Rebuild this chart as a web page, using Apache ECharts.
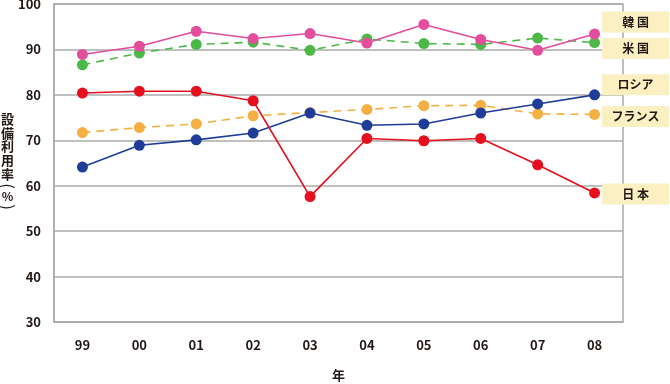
<!DOCTYPE html>
<html><head><meta charset="utf-8">
<script src="https://cdn.jsdelivr.net/npm/echarts@6/dist/echarts.min.js"></script>
<style>html,body{margin:0;padding:0;background:#fff}#c{width:670px;height:384px}</style>
</head><body><div id="c"></div>
<script>
const years = ['99','00','01','02','03','04','05','06','07','08'];
const korea  = [88.9, 90.7, 94.0, 92.4, 93.5, 91.4, 95.5, 92.2, 89.8, 93.4];
const usa    = [86.6, 89.2, 91.1, 91.6, 89.8, 92.3, 91.3, 91.1, 92.5, 91.5];
const japan  = [80.4, 80.8, 80.8, 78.7, 57.6, 70.4, 69.9, 70.4, 64.6, 58.4];
const russia = [64.1, 68.9, 70.1, 71.6, 76.0, 73.3, 73.6, 76.0, 78.0, 80.0];
const france = [71.7, 72.8, 73.6, 75.4, 76.1, 76.8, 77.6, 77.7, 75.8, 75.7];
const yTicks = [30, 40, 50, 60, 70, 80, 90, 100];
const yTitleChars = ['設', '備', '利', '用', '率'];
const xTitle = '年';

const FONT = '"Noto Sans CJK JP", "Noto Sans", sans-serif';
const TXT = '#231815';

function mk(name, label, data, color, dashed, dy) {
  return {
    name: name, type: 'line', data: data,
    symbol: 'circle', symbolSize: 11,
    lineStyle: { color: color, width: 1.6, type: dashed ? [8, 6] : 'solid' },
    itemStyle: { color: color },
    emphasis: { disabled: true },
    endLabel: {
      show: true, formatter: label,
      distance: 7, offset: [34, dy],
      backgroundColor: '#FAF0C2',
      width: 55, height: 11, lineHeight: 11,
      padding: [5, 6], align: 'center',
      color: TXT, fontFamily: FONT, fontWeight: 'bold', fontSize: 12
    },
    animation: false
  };
}

const titleText = yTitleChars.join('\n');

const chart = echarts.init(document.getElementById('c'));
chart.setOption({
  backgroundColor: '#fff',
  animation: false,
  grid: { left: 54, right: 47, top: 4, bottom: 62, outerBoundsMode: 'none', containLabel: false,
          show: true, borderColor: '#ababab', borderWidth: 1.5, backgroundColor: 'transparent' },
  xAxis: {
    type: 'category', data: years, boundaryGap: true,
    name: xTitle, nameLocation: 'middle', nameGap: 47,
    nameTextStyle: { color: TXT, fontFamily: FONT, fontWeight: 'bold', fontSize: 13 },
    axisLine: { lineStyle: { color: '#ababab', width: 1.5 } },
    axisTick: { show: false },
    axisLabel: { color: TXT, fontFamily: FONT, fontWeight: 'bold', fontSize: 13, margin: 17 }
  },
  yAxis: {
    type: 'value', min: yTicks[0], max: yTicks[yTicks.length - 1], interval: 10,
    axisLine: { show: true, lineStyle: { color: '#ababab', width: 1.5 } },
    axisTick: { show: false },
    splitLine: { lineStyle: { color: '#ababab', width: 1.5 } },
    axisLabel: { color: TXT, fontFamily: FONT, fontWeight: 'bold', fontSize: 13, margin: 13 }
  },
  graphic: [
    { type: 'text', x: 7.5, y: 112,
      style: { text: titleText, fill: TXT, fontFamily: FONT, fontWeight: 'bold', fontSize: 13,
               lineHeight: 13.8, align: 'center', verticalAlign: 'top' } },
    { type: 'text', x: 7.5, y: 186, rotation: -Math.PI / 2,
      style: { text: '(', fill: TXT, fontFamily: FONT, fontWeight: 'normal', fontSize: 17,
               align: 'center', verticalAlign: 'middle' } },
    { type: 'text', x: 7.5, y: 196.5,
      style: { text: '%', fill: TXT, fontFamily: FONT, fontWeight: 'bold', fontSize: 12,
               align: 'center', verticalAlign: 'middle' } },
    { type: 'text', x: 7.5, y: 207, rotation: -Math.PI / 2,
      style: { text: ')', fill: TXT, fontFamily: FONT, fontWeight: 'normal', fontSize: 17,
               align: 'center', verticalAlign: 'middle' } }
  ],
  series: [
    mk('フランス', 'フランス', france, '#F4B043', true, 2),
    mk('ロシア', 'ロシア', russia, '#1F3C98', false, -10),
    mk('米国', '米 国', usa, '#4CB848', true, 6),
    mk('韓国', '韓 国', korea, '#E24D9C', false, -12),
    mk('日本', '日 本', japan, '#E60F1E', false, 1)
  ]
});
</script>
</body></html>
